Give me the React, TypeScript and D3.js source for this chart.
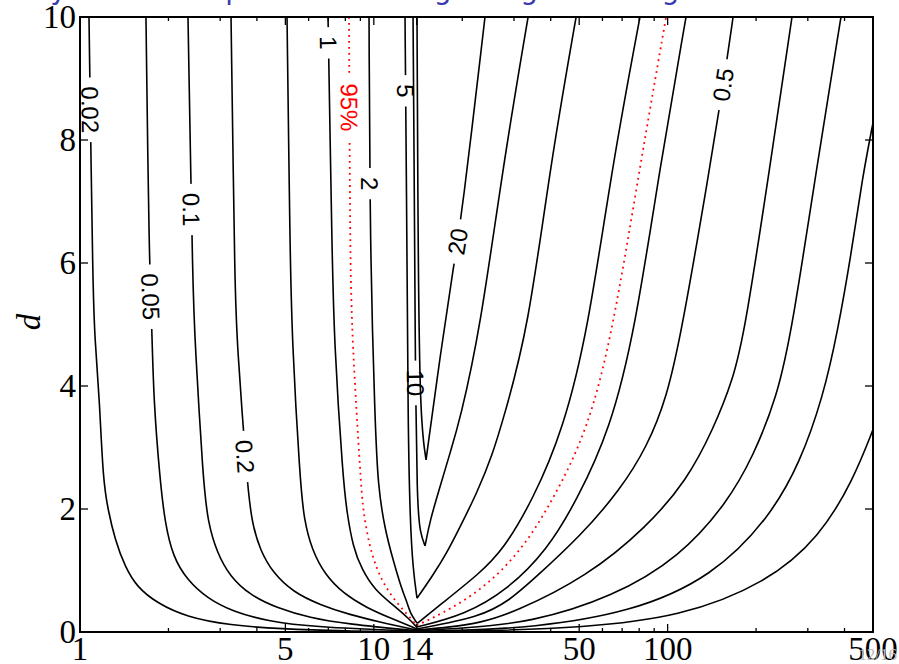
import React from 'react';
import * as d3 from 'd3';

type P = [number, number];

// ---- axis ticks ----
const xTickLabels = [1, 5, 10, 14, 50, 100, 500];
const xMinorTicks = [2, 3, 4, 6, 7, 8, 9, 20, 30, 40, 60, 70, 80, 90, 200, 300, 400];
const yTickLabels = [0, 2, 4, 6, 8, 10];

// ---- contour lines, points as [x, d] (left branch top->bottom, then right branch bottom->top) ----
const c002: P[] = [
  [1.073, 10.0], [1.107, 5.4], [1.125, 4.75], [1.165, 3.78], [1.198, 2.47], [1.245, 1.99], [1.316, 1.5],
  [1.423, 1.06], [1.563, 0.73], [1.828, 0.47], [2.313, 0.24], [3.24, 0.11], [4.79, 0.05], [8.0, 0.015], [14.0, 0.0],
  [25, 0.02], [50.3, 0.07], [110, 0.24], [218, 0.8], [330, 1.55], [428, 2.47], [500, 3.29],
];
const c005: P[] = [
  [1.677, 10.0], [1.718, 6.1], [1.758, 4.91], [1.78, 3.78], [1.872, 2.47], [1.947, 1.77], [2.073, 1.22],
  [2.313, 0.85], [2.706, 0.55], [3.317, 0.33], [4.33, 0.18], [6.21, 0.08], [14.0, 0.01],
  [20, 0.025], [34.0, 0.07], [74.5, 0.31], [142.7, 0.9], [223, 1.87], [282, 2.75], [338, 3.82], [380, 4.91],
  [424, 6.22], [459, 7.36], [500, 8.28],
];
const c01: P[] = [
  [2.331, 10.0], [2.424, 5.4], [2.463, 4.75], [2.622, 2.47], [2.727, 1.77], [2.927, 1.29], [3.24, 0.9],
  [3.79, 0.6], [4.683, 0.39], [6.065, 0.23], [8.1, 0.13], [14.0, 0.02],
  [20, 0.06], [34.0, 0.15], [65.2, 0.57], [110.2, 1.22], [159.3, 2.1], [195.3, 2.85], [235.7, 3.82], [265, 4.91],
  [322, 7.57], [389, 10.0],
];
const c02: P[] = [
  [3.266, 10.0], [3.37, 5.4], [3.423, 4.75], [3.702, 2.42], [3.849, 1.77], [4.101, 1.33], [4.538, 0.96],
  [5.309, 0.65], [6.56, 0.44], [8.3, 0.28], [10.5, 0.16], [14.0, 0.03],
  [18.2, 0.08], [23.0, 0.15], [29.8, 0.31], [53.2, 0.9], [85.1, 1.71], [116.4, 2.47], [142.7, 3.29], [167, 4.1],
  [183.4, 4.91], [223, 7.57], [265, 10.0],
];
const c05: P[] = [
  [5.065, 10.0], [5.185, 6.22], [5.267, 4.75], [5.609, 2.47], [5.787, 1.82], [6.162, 1.33], [6.823, 0.93],
  [7.858, 0.63], [9.48, 0.39], [11.35, 0.23], [14.0, 0.05],
  [23.0, 0.24], [29.1, 0.52], [34.8, 0.85], [50.3, 1.55], [68.9, 2.31], [85.1, 3.01], [99.5, 3.82], [111.9, 4.91],
  [139.4, 7.57], [149.6, 8.49], [159.3, 9.31], [167.0, 10.0],
];
const c1: P[] = [
  [6.985, 10.0], [7.207, 6.22], [7.321, 4.75], [7.858, 2.47], [8.104, 1.94], [8.495, 1.38], [9.116, 1.01],
  [10.09, 0.68], [11.63, 0.44], [13.28, 0.2], [14.0, 0.08],
  [20.4, 0.28], [28.4, 0.68], [38.9, 1.33], [49.2, 2.15], [63.7, 3.29], [77.5, 4.91], [94.2, 7.57], [115.5, 10.0],
];
const c2: P[] = [
  [9.632, 10.0], [9.707, 6.22], [10.09, 3.45], [10.33, 2.36], [10.92, 1.66], [11.63, 1.17], [12.47, 0.68],
  [12.97, 0.49], [13.28, 0.31], [14.05, 0.14],
  [16.8, 0.44], [23.0, 0.96], [27.5, 1.33], [34.8, 2.15], [44.1, 3.29], [53.6, 4.91], [64.7, 7.57], [80.5, 10.0],
];
const c5: P[] = [
  [12.77, 10.0], [12.97, 6.22], [13.07, 3.45], [13.28, 1.82], [13.6, 1.01], [14.03, 0.55],
  [15.78, 0.9], [17.75, 1.29], [19.65, 1.71], [22.45, 2.26], [25.45, 2.91], [27.53, 3.45], [33.5, 4.91],
  [39.8, 7.57], [48.8, 10.0],
];
const c10: P[] = [
  [13.6, 10.0], [13.78, 6.22], [13.84, 4.43], [14.03, 2.1], [14.37, 1.61], [14.94, 1.4],
  [15.54, 1.82], [16.8, 2.36], [18.17, 2.91], [19.65, 3.45], [23.0, 4.91], [27.5, 7.57], [33.5, 10.0],
];
const c20: P[] = [
  [14.03, 10.0], [14.14, 6.22], [14.37, 3.45], [15.06, 2.8],
  [16.93, 4.59], [18.6, 5.89], [19.96, 6.79], [23.9, 10.0],
];
const ci95: P[] = [
  [8.234, 10.0], [8.299, 6.22], [8.43, 4.75], [9.045, 2.39], [9.19, 1.99], [9.632, 1.42], [10.25, 1.01],
  [11.0, 0.72], [11.9, 0.49], [12.97, 0.29], [14.0, 0.11],
  [16.8, 0.28], [23.35, 0.68], [31.95, 1.33], [40.74, 2.15], [53.6, 3.29], [65.2, 4.91], [80.5, 7.57], [98.8, 10.0],
];

const contourLevels = ['0.02', '0.05', '0.1', '0.2', '0.5', '1', '2', '5', '10', '20'];
const contourPoints: P[][] = [c002, c005, c01, c02, c05, c1, c2, c5, c10, c20];

// inline labels: text and approximate location [x, d]
const labelTexts = ['0.02', '0.05', '0.1', '0.2', '1', '95%', '2', '5', '10', '20', '0.5'];
const labelX = [1.073, 1.704, 2.368, 3.558, 6.985, 8.17, 9.41, 12.77, 13.81, 19.2, 154.4];
const labelD = [8.49, 5.45, 6.87, 2.85, 9.58, 8.53, 7.29, 8.8, 4.05, 6.35, 8.9];

const W = 899;
const H = 664;
const L = 80, R = 873, T = 17, B = 632;
const LABEL_FS = 24;
const AXIS_FS = 33;
const SANS = "'Liberation Sans', Arial, Helvetica, sans-serif";
const SERIF = "'Liberation Serif', 'Times New Roman', serif";

function textWidth(t: string) {
  let s = 0;
  for (const c of t) s += c === '.' ? 0.278 : c === '%' ? 0.889 : 0.556;
  return s * LABEL_FS;
}

export default function App() {
  const x = d3.scaleLog().domain([1, 500]).range([L, R]);
  const y = d3.scaleLinear().domain([0, 10]).range([B, T]);
  const line = d3
    .line<P>()
    .x((p) => x(p[0]))
    .y((p) => y(p[1]))
    .curve(d3.curveBasis);

  const series = [
    ...contourLevels.map((lv, i) => ({ key: lv, pts: contourPoints[i], red: false })),
    { key: '95%', pts: ci95, red: true },
  ];

  const pathFor = (pts: P[]) => {
    let tip = 0;
    for (let k = 1; k < pts.length; k++) if (pts[k][1] < pts[tip][1]) tip = k;
    const left = pts.slice(0, tip + 1);
    const right = pts.slice(tip);
    return (line(left) || '') + (line(right) || '');
  };

  const placed = labelTexts.map((t, i) => {
    const s = series.find((q) => q.key === t)!;
    const px = x(labelX[i]);
    const py = y(labelD[i]);
    let best = Infinity, cx = px, cy = py, ang = 90;
    for (let k = 0; k < s.pts.length - 1; k++) {
      const x1 = x(s.pts[k][0]), y1 = y(s.pts[k][1]);
      const x2 = x(s.pts[k + 1][0]), y2 = y(s.pts[k + 1][1]);
      const dx = x2 - x1, dy = y2 - y1;
      const len = dx * dx + dy * dy;
      let tt = len ? ((px - x1) * dx + (py - y1) * dy) / len : 0;
      tt = Math.max(0, Math.min(1, tt));
      const qx = x1 + tt * dx, qy = y1 + tt * dy;
      const dist = (px - qx) ** 2 + (py - qy) ** 2;
      if (dist < best) {
        best = dist;
        cx = qx;
        cy = qy;
        ang = (Math.atan2(dy, dx) * 180) / Math.PI;
      }
    }
    return { t, key: s.key, red: s.red, cx, cy, ang, w: textWidth(t) };
  });

  const tickLen = (major: boolean) => (major ? 8 : 4);

  return (
    <svg
      width={W}
      height={H}
      viewBox={`0 0 ${W} ${H}`}
      style={{ position: 'absolute', left: 0, top: 0, background: '#fff' }}
    >
      <defs>
        <clipPath id="plotClip">
          <rect x={L} y={T} width={R - L} height={B - T} />
        </clipPath>
        {series.map((s, i) => (
          <mask id={`m${i}`} key={i} maskUnits="userSpaceOnUse" x={0} y={0} width={W} height={H}>
            <rect x={0} y={0} width={W} height={H} fill="#fff" />
            {placed
              .filter((p) => p.key === s.key)
              .map((p, j) => (
                <rect
                  key={j}
                  x={-(p.w + 18) / 2}
                  y={-6}
                  width={p.w + 18}
                  height={12}
                  fill="#000"
                  transform={`translate(${p.cx},${p.cy}) rotate(${p.ang})`}
                />
              ))}
          </mask>
        ))}
      </defs>

      {/* slide title, almost entirely above the visible page */}
      <text x={14} y={-1} fontFamily="'DejaVu Sans', sans-serif" fontSize={28} fill="#3a3ab0">
        Bayes factor 1 p-value for a signal against range
      </text>

      <g clipPath="url(#plotClip)">
        {series.map((s, i) => (
          <path
            key={s.key}
            d={pathFor(s.pts)}
            fill="none"
            stroke={s.red ? '#ff0000' : '#000'}
            strokeWidth={s.red ? 1.8 : 1.6}
            strokeDasharray={s.red ? '1.8 4.2' : undefined}
            strokeLinejoin="round"
            mask={`url(#m${i})`}
          />
        ))}
      </g>

      {placed.map((p, i) => (
        <text
          key={i}
          transform={`translate(${p.cx},${p.cy}) rotate(${p.ang})`}
          textAnchor="middle"
          dy="0.36em"
          fontFamily={SANS}
          fontSize={LABEL_FS}
          fill={p.red ? '#ff0000' : '#000'}
        >
          {p.t}
        </text>
      ))}

      {/* frame */}
      <rect x={L} y={T} width={R - L} height={B - T} fill="none" stroke="#000" strokeWidth={2} />

      {/* x ticks */}
      {[...xTickLabels.map((v) => ({ v, major: true })), ...xMinorTicks.map((v) => ({ v, major: false }))].map(
        (tk, i) => (
          <g key={`xt${i}`} stroke="#000" strokeWidth={1.3}>
            <line x1={x(tk.v)} x2={x(tk.v)} y1={B} y2={B - tickLen(tk.major)} />
            <line x1={x(tk.v)} x2={x(tk.v)} y1={T} y2={T + tickLen(tk.major)} />
          </g>
        )
      )}
      {xTickLabels.map((v) => (
        <text
          key={`xl${v}`}
          x={x(v)}
          y={660}
          textAnchor="middle"
          fontFamily={SERIF}
          fontSize={AXIS_FS}
          fill="#000"
        >
          {v}
        </text>
      ))}

      {/* y ticks */}
      {yTickLabels.map((v) => (
        <g key={`yt${v}`} stroke="#000" strokeWidth={1.3}>
          <line x1={L} x2={L + 8} y1={y(v)} y2={y(v)} />
          <line x1={R} x2={R - 8} y1={y(v)} y2={y(v)} />
        </g>
      ))}
      {yTickLabels.map((v) => (
        <text
          key={`yl${v}`}
          x={76}
          y={y(v) + 11}
          textAnchor="end"
          fontFamily={SERIF}
          fontSize={AXIS_FS}
          fill="#000"
        >
          {v}
        </text>
      ))}

      <text
        transform={`translate(40,322) rotate(-90)`}
        textAnchor="middle"
        fontFamily={SERIF}
        fontStyle="italic"
        fontSize={AXIS_FS}
        fill="#000"
      >
        d
      </text>

      {/* slide page number */}
      <text x={897} y={660} textAnchor="end" fontFamily={SERIF} fontSize={17} fill="#b8b8b8">
        12/16
      </text>
    </svg>
  );
}
